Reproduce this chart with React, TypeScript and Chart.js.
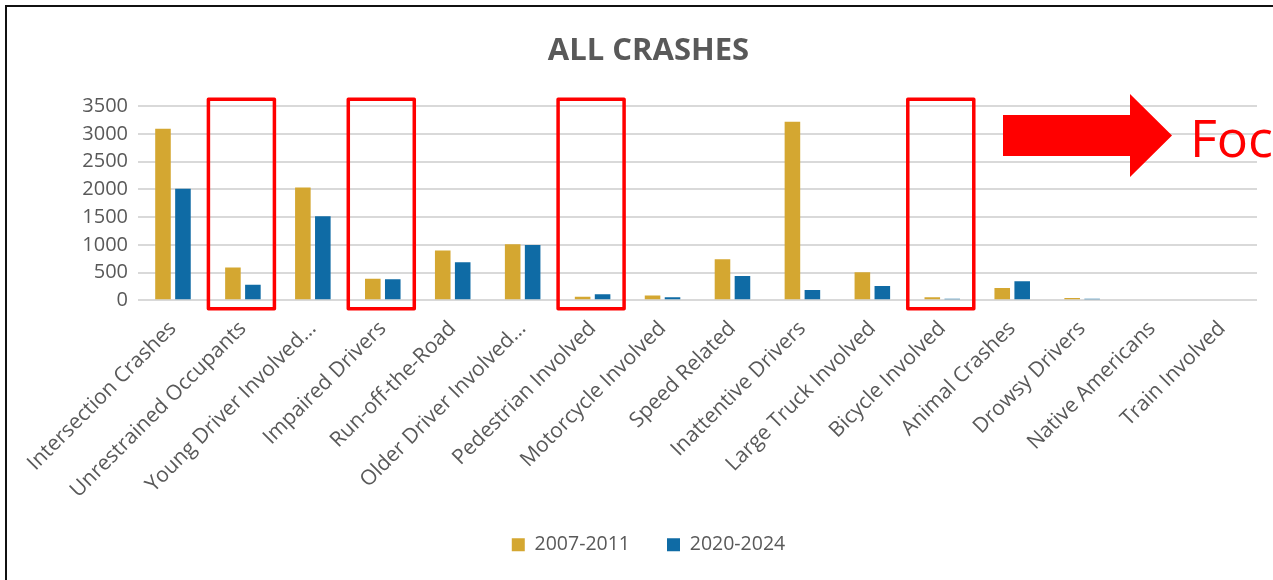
import React, { useEffect, useRef } from "react";
import { Chart, registerables } from "chart.js";

Chart.register(...registerables);

const categories = [
  "Intersection Crashes",
  "Unrestrained Occupants",
  "Young Driver Involved…",
  "Impaired Drivers",
  "Run-off-the-Road",
  "Older Driver Involved…",
  "Pedestrian Involved",
  "Motorcycle Involved",
  "Speed Related",
  "Inattentive Drivers",
  "Large Truck Involved",
  "Bicycle Involved",
  "Animal Crashes",
  "Drowsy Drivers",
  "Native Americans",
  "Train Involved",
];

const series2007_2011 = [3095, 590, 2035, 390, 900, 1010, 65, 85, 740, 3220, 505, 55, 220, 40, 0, 0];
const series2020_2024 = [2010, 280, 1515, 378, 685, 995, 107, 55, 440, 185, 258, 30, 345, 28, 0, 0];

const seriesLabels = ["2007-2011", "2020-2024"];
const seriesColors = ["#D4A731", "#0F6BA5"];

const yMin = 0;
const yMax = 3500;
const yStep = 500;

const focusCategories = ["Unrestrained Occupants", "Impaired Drivers", "Pedestrian Involved", "Bicycle Involved"];
const calloutText = "Focus";

const FONT = "'Open Sans', 'Noto Sans', sans-serif";
const TEXT = "#595959";

const annotationPlugin = {
  id: "annotations",
  afterDatasetsDraw(chart: any) {
    const { ctx, scales } = chart;
    const x = scales.x;
    const y = scales.y;
    ctx.save();
    ctx.strokeStyle = "#FF0000";
    ctx.lineWidth = 3.5;
    ctx.lineJoin = "round";
    const top = y.getPixelForValue(yMax) - 7;
    const bottom = y.getPixelForValue(yMin) + 8.5;
    focusCategories.forEach((c) => {
      const i = categories.indexOf(c);
      const cx = x.getPixelForValue(i) - 1.5;
      ctx.strokeRect(cx - 33, top, 66, bottom - top);
    });
    ctx.fillStyle = "#FF0000";
    ctx.beginPath();
    ctx.moveTo(1003, 115);
    ctx.lineTo(1130, 115);
    ctx.lineTo(1130, 94);
    ctx.lineTo(1172, 135.5);
    ctx.lineTo(1130, 177);
    ctx.lineTo(1130, 156);
    ctx.lineTo(1003, 156);
    ctx.closePath();
    ctx.fill();
    ctx.font = `52px ${FONT}`;
    ctx.textBaseline = "alphabetic";
    ctx.textAlign = "left";
    ctx.fillText(calloutText, 1190, 157);
    ctx.restore();
  },
  afterDraw(chart: any) {
    const { ctx } = chart;
    ctx.save();
    ctx.strokeStyle = "#111111";
    ctx.lineWidth = 2;
    ctx.strokeRect(6, 6, chart.width + 50, chart.height + 50);
    ctx.restore();
  },
};

export default function App() {
  const ref = useRef<HTMLCanvasElement | null>(null);

  useEffect(() => {
    if (!ref.current) return;
    const chart = new Chart(ref.current, {
      type: "bar",
      data: {
        labels: categories,
        datasets: [
          {
            label: seriesLabels[0],
            data: series2007_2011,
            backgroundColor: seriesColors[0],
            borderWidth: 0,
            categoryPercentage: 0.571,
            barPercentage: 0.78,
          },
          {
            label: seriesLabels[1],
            data: series2020_2024,
            backgroundColor: seriesColors[1],
            borderWidth: 0,
            categoryPercentage: 0.571,
            barPercentage: 0.78,
          },
        ],
      },
      options: {
        responsive: false,
        animation: false,
        layout: { padding: { left: 40, right: 16, top: 13, bottom: 15.6 } },
        plugins: {
          title: {
            display: true,
            text: "ALL CRASHES",
            color: TEXT,
            font: { family: FONT, size: 31, weight: "bold" },
            padding: { top: 20, bottom: 36 },
          },
          legend: {
            position: "bottom",
            labels: {
              color: TEXT,
              font: { family: FONT, size: 19.5 },
              boxWidth: 13,
              boxHeight: 13,
              padding: 37,
            },
          },
          tooltip: { enabled: false },
        },
        scales: {
          x: {
            grid: { display: false },
            border: { display: false },
            ticks: {
              color: TEXT,
              font: { family: FONT, size: 21 },
              maxRotation: 45,
              minRotation: 45,
              autoSkip: false,
              padding: 8,
            },
            afterFit(scale: any) {
              scale.height = 197.6;
            },
          },
          y: {
            min: yMin,
            max: yMax,
            border: { display: false },
            grid: { color: "#D9D9D9", lineWidth: 2, drawTicks: false },
            ticks: {
              stepSize: yStep,
              color: TEXT,
              font: { family: FONT, size: 20 },
              padding: 10,
              callback: (v: any) => String(v),
            },
            afterFit(scale: any) {
              scale.width = 98;
            },
          },
        },
      },
      plugins: [annotationPlugin],
    } as any);
    return () => chart.destroy();
  }, []);

  return (
    <div style={{ position: "fixed", left: 0, top: 0, width: 1273, height: 580, background: "#fff" }}>
      <canvas ref={ref} width={1273} height={580} style={{ display: "block" }} />
    </div>
  );
}
